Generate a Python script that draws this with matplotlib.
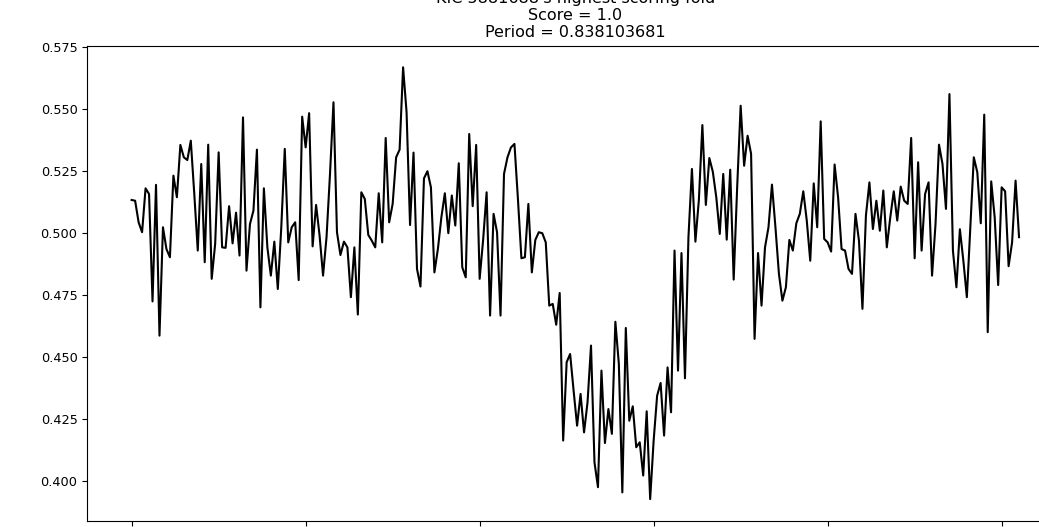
"""Phase-folded light curve of KIC 5881688 (highest scoring fold)."""

import matplotlib
matplotlib.use("Agg")
import matplotlib.pyplot as plt

TITLE_STAR = "KIC 5881688"
SCORE = 1.0
PERIOD = 0.838103681

# binned, folded flux (one value per phase bin)
flux = [
    0.5133, 0.5130, 0.5043, 0.5003, 0.5180, 0.5157, 0.4724, 0.5194, 0.4586, 0.5023,
    0.4935, 0.4902, 0.5231, 0.5144, 0.5355, 0.5305, 0.5294, 0.5372, 0.5157, 0.4929,
    0.5278, 0.4882, 0.5356, 0.4815, 0.4956, 0.5325, 0.4942, 0.4940, 0.5108, 0.4958,
    0.5082, 0.4909, 0.5466, 0.4848, 0.5036, 0.5090, 0.5336, 0.4700, 0.5180, 0.4942,
    0.4828, 0.4965, 0.4774, 0.5023, 0.5339, 0.4962, 0.5023, 0.5043, 0.4810, 0.5469,
    0.5345, 0.5483, 0.4946, 0.5113, 0.4990, 0.4828, 0.4983, 0.5238, 0.5527, 0.5003,
    0.4911, 0.4965, 0.4942, 0.4741, 0.4942, 0.4671, 0.5164, 0.5137, 0.4992, 0.4969,
    0.4942, 0.5160, 0.4962, 0.5383, 0.5043, 0.5117, 0.5305, 0.5336, 0.5668, 0.5487,
    0.5032, 0.5324, 0.4855, 0.4784, 0.5220, 0.5249, 0.5184, 0.4841, 0.4935, 0.5063,
    0.5160, 0.4999, 0.5151, 0.5030, 0.5281, 0.4862, 0.4821, 0.5399, 0.5108, 0.5355,
    0.4815, 0.4972, 0.5164, 0.4667, 0.5077, 0.5003, 0.4667, 0.5238, 0.5305, 0.5345,
    0.5359, 0.5137, 0.4898, 0.4902, 0.5117, 0.4841, 0.4972, 0.5003, 0.4999, 0.4962,
    0.4707, 0.4714, 0.4630, 0.4758, 0.4163, 0.4479, 0.4512, 0.4364, 0.4223, 0.4351,
    0.4196, 0.4317, 0.4546, 0.4075, 0.3975, 0.4445, 0.4153, 0.4290, 0.4190, 0.4642,
    0.4472, 0.3954, 0.4617, 0.4243, 0.4301, 0.4136, 0.4156, 0.4022, 0.4281, 0.3927,
    0.4163, 0.4344, 0.4395, 0.4183, 0.4458, 0.4277, 0.4929, 0.4445, 0.4919, 0.4414,
    0.4983, 0.5258, 0.4965, 0.5134, 0.5435, 0.5113, 0.5302, 0.5247, 0.5144, 0.4996,
    0.5238, 0.4973, 0.5255, 0.4812, 0.5184, 0.5513, 0.5271, 0.5392, 0.5319, 0.4573,
    0.4919, 0.4707, 0.4942, 0.5023, 0.5195, 0.5023, 0.4835, 0.4727, 0.4781, 0.4972,
    0.4929, 0.5039, 0.5077, 0.5168, 0.5050, 0.4888, 0.5200, 0.5023, 0.5450, 0.4976,
    0.4962, 0.4925, 0.5276, 0.5144, 0.4935, 0.4929, 0.4855, 0.4835, 0.5077, 0.4969,
    0.4694, 0.5070, 0.5204, 0.5016, 0.5130, 0.5009, 0.5171, 0.4942, 0.5063, 0.5168,
    0.5050, 0.5187, 0.5130, 0.5117, 0.5383, 0.4898, 0.5285, 0.4929, 0.5157, 0.5204,
    0.4828, 0.5036, 0.5356, 0.5278, 0.5097, 0.5560, 0.4929, 0.4781, 0.5015, 0.4888,
    0.4741, 0.5023, 0.5305, 0.5245, 0.5039, 0.5477, 0.4600, 0.5208, 0.5063, 0.4790,
    0.5184, 0.5168, 0.4866, 0.4962, 0.5211, 0.4983,
]


def main():
    fig = plt.figure(figsize=(10.39, 5.27), dpi=100)
    # axes run past the right edge like the cropped original
    ax = fig.add_axes([0.0840, 0.0120, 0.9395, 0.9013])

    ax.plot(flux, color="black", lw=1.5)

    ax.set_title(
        f"{TITLE_STAR}'s highest scoring fold\n"
        f"Score = {SCORE}\n"
        f"Period = {PERIOD}",
        fontsize=11.5,
    )
    ax.tick_params(axis="y", labelsize=9.3)
    # x tick labels fall below the visible area in the reference
    ax.tick_params(axis="x", labelbottom=False)

    fig.savefig("out.png", dpi=100)


if __name__ == "__main__":
    main()
